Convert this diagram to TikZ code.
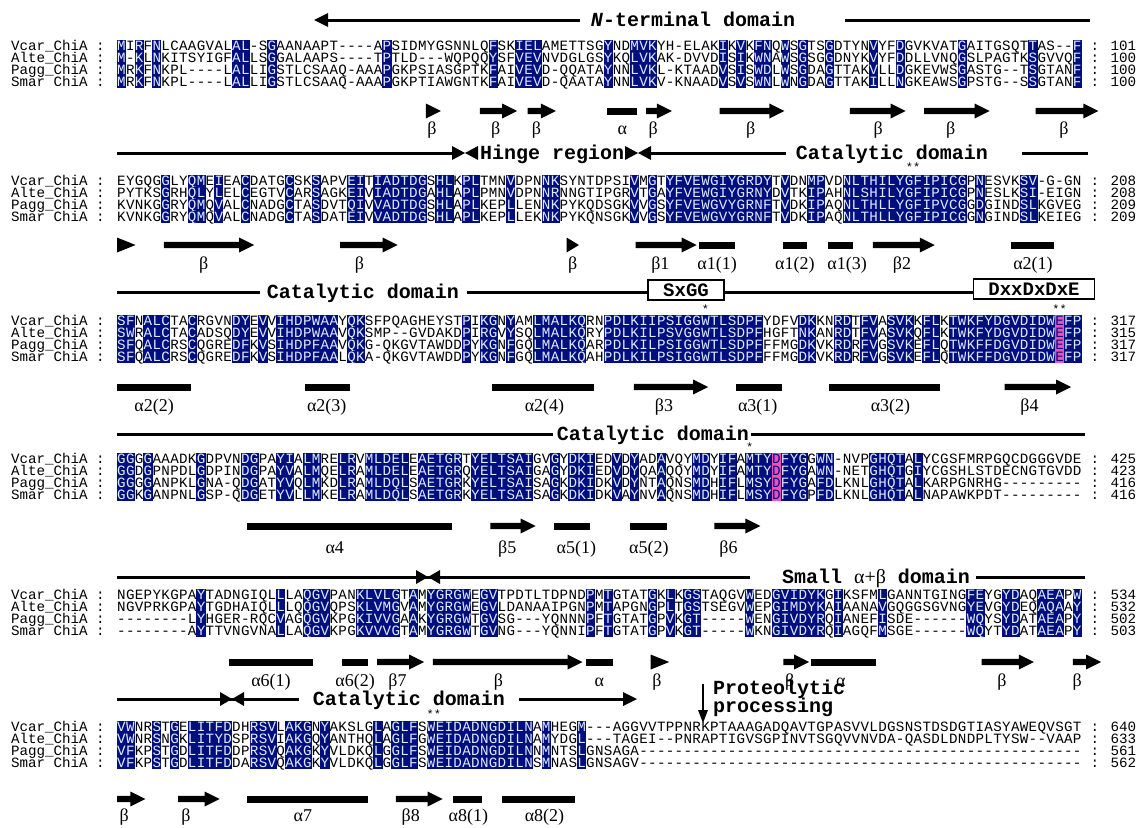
\documentclass[tikz,border=0pt]{standalone}
\usepackage{fontspec}
\newfontfamily\seqf{Liberation Mono}
\newfontfamily\serf{Liberation Serif}
\definecolor{nv}{RGB}{0,15,125}
\definecolor{pk}{RGB}{240,80,190}
\definecolor{lt}{RGB}{225,232,255}
\makeatletter
\newcount\st@n
\def\storeseq#1#2{\def\st@pre{#1}\global\st@n=0 \st@loop#2\relax}
\def\st@loop#1{\ifx#1\relax\else\global\advance\st@n1 \expandafter\xdef\csname\st@pre @\the\st@n\endcsname{#1}\expandafter\st@loop\fi}
\def\setgrp#1#2{\@tfor\x:=#2\do{\expandafter\xdef\csname g@\x\endcsname{#1}}}
\setgrp{1}{DN}\setgrp{2}{EQ}\setgrp{3}{ST}\setgrp{4}{KR}\setgrp{5}{FYW}\setgrp{6}{LIVM}
\def\getgrp#1#2{\ifcsname g@#1\endcsname\edef#2{\csname g@#1\endcsname}\else\edef#2{#1}\fi}
\makeatother
\def\xo{117}\def\pw{8.85}\def\rp{12}\def\bsh{4.1}
\tikzset{
 seqtxt/.style={font=\seqf\fontsize{14.2}{15}\selectfont, inner sep=0pt, anchor=base},
 dline/.style={line width=3pt},
 dtxt/.style={font=\seqf\bfseries\fontsize{20}{22}\selectfont, inner sep=0pt, anchor=base},
 sslab/.style={font=\serf\fontsize{18}{20}\selectfont, inner sep=0pt, anchor=base},
 startxt/.style={font=\seqf\fontsize{12}{12}\selectfont, inner sep=0pt},
 motif/.style={draw, line width=1.5pt, minimum height=20pt, inner sep=0pt, font=\seqf\bfseries\fontsize{19}{20}\selectfont}
}
\newcommand\putcell[3]{%
  \pgfmathsetmacro\yy{-(#1)}%
  \ifcase#3\relax
    \node[seqtxt] at ({\xx},{\yy-\bsh}) {#2};%
  \or
    \fill[nv] ({\xx-0.5*\pw-0.2},{\yy-0.5*\rp-0.2}) rectangle ({\xx+0.5*\pw+0.2},{\yy+0.5*\rp+0.2});%
    \node[seqtxt,text=lt] at ({\xx},{\yy-\bsh}) {#2};%
  \or
    \fill[pk] ({\xx-0.5*\pw-0.2},{\yy-0.5*\rp-0.2}) rectangle ({\xx+0.5*\pw+0.2},{\yy+0.5*\rp+0.2});%
    \node[seqtxt,text=nv] at ({\xx},{\yy-\bsh}) {#2};%
  \fi}
\newcommand\drawblock[7]{%
  \foreach \cl in {1,...,109}{%
    \edef\qa{\csname s#1a@\cl\endcsname}%
    \edef\qb{\csname s#1b@\cl\endcsname}%
    \edef\qc{\csname s#1c@\cl\endcsname}%
    \edef\qd{\csname s#1d@\cl\endcsname}%
    \getgrp\qa\grA\getgrp\qb\grB\getgrp\qc\grC\getgrp\qd\grD
    \def\shmode{0}%
    \ifx\grA\grB\ifx\grB\grC\ifx\grC\grD\def\shmode{1}\fi\fi\fi
    \if-\qa\def\shmode{0}\fi
    \ifnum\cl=#3\relax\def\shmode{2}\fi
    \pgfmathsetmacro\xx{\xo+(\cl-0.5)*\pw}%
    \putcell{#2}{\qa}{\shmode}%
    \putcell{#2+\rp}{\qb}{\shmode}%
    \putcell{#2+2*\rp}{\qc}{\shmode}%
    \putcell{#2+3*\rp}{\qd}{\shmode}%
  }%
  \node[seqtxt,anchor=base west] (n#1a) at ({\xo-12*\pw},{-(#2)-\bsh}) {Vcar\_ChiA :};
  \node[seqtxt,anchor=base west] (n#1b) at ({\xo-12*\pw},{-(#2)-\rp-\bsh}) {Alte\_ChiA :};
  \node[seqtxt,anchor=base west] (n#1c) at ({\xo-12*\pw},{-(#2)-2*\rp-\bsh}) {Pagg\_ChiA :};
  \node[seqtxt,anchor=base west] (n#1d) at ({\xo-12*\pw},{-(#2)-3*\rp-\bsh}) {Smar ChiA :};
  \node[seqtxt,anchor=base west] (m#1a) at ({\xo+110*\pw},{-(#2)-\bsh}) {: #4};
  \node[seqtxt,anchor=base west] (m#1b) at ({\xo+110*\pw},{-(#2)-\rp-\bsh}) {: #5};
  \node[seqtxt,anchor=base west] (m#1c) at ({\xo+110*\pw},{-(#2)-2*\rp-\bsh}) {: #6};
  \node[seqtxt,anchor=base west] (m#1d) at ({\xo+110*\pw},{-(#2)-3*\rp-\bsh}) {: #7};
}
\newcommand\ssarrow[3]{%
  \pgfmathsetmacro\xa{\xo+#1*\pw}\pgfmathsetmacro\xb{\xo+#2*\pw}%
  \fill (\xa,{-#3+3.2}) -- ({\xb-15},{-#3+3.2}) -- ({\xb-15},{-#3+7.5}) -- (\xb,{-#3}) -- ({\xb-15},{-#3-7.5}) -- ({\xb-15},{-#3-3.2}) -- (\xa,{-#3-3.2}) -- cycle;}
\newcommand\sstri[3]{%
  \pgfmathsetmacro\xa{\xo+#1*\pw}\pgfmathsetmacro\xb{\xo+#2*\pw}%
  \fill (\xa,{-#3+7.5}) -- (\xb,{-#3}) -- (\xa,{-#3-7.5}) -- cycle;}
\newcommand\ssbar[3]{%
  \pgfmathsetmacro\xa{\xo+#1*\pw}\pgfmathsetmacro\xb{\xo+#2*\pw}%
  \fill (\xa,{-#3+3.5}) rectangle (\xb,{-#3-3.5});}
\newcommand\sslabel[3]{\node[sslab] at ({\xo+#1*\pw},{-#2-5.5}) {#3};}
\newcommand\ahead[3]{\fill (#1,{-#2}) -- ({#1+#3},{-#2+7}) -- ({#1+#3},{-#2-7}) -- cycle;}

\storeseq{s1a}{MIRFNLCAAGVALAL-SGAANAAPT----APSIDMYGSNNLQFSKIELAMETTSGYNDMVKYH-ELAKIKVKFNQWSGTSGDTYNVYFDGVKVATGAITGSQTTAS--F}
\storeseq{s1b}{M-KLNKITSYIGFALLSGGALAAPS----TPTLD---WQPQQYSFVEVNVDGLGSYKQLVKAK-DVVDISIKWNAWSGSGGDNYKVYFDDLLVNQGSLPAGTKSGVVQF}
\storeseq{s1c}{MRKFNKPL----LALLIGSTLCSAAQ-AAAPGKPSIASGPTKFAIVEVD-QQATAYNNLVKL-KTAADVSISWDLWSGDAGTTAKVLLDGKEVWSGASTG--TSGTANF}
\storeseq{s1d}{MRKFNKPL----LALLIGSTLCSAAQ-AAAPGKPTIAWGNTKFAIVEVD-QAATAYNNLVKV-KNAADVSVSWNLWNGDAGTTAKILLNGKEAWSGPSTG--SSGTANF}
\storeseq{s2a}{EYGQGGLYQMEIEACDATGCSKSAPVEITIADTDGSHLKPLTMNVDPNNKSYNTDPSIVMGTYFVEWGIYGRDYTVDNMPVDNLTHILYGFIPICGPNESVKSV-G-GN}
\storeseq{s2b}{PYTKSGRHQLYLELCEGTVCARSAGKEIVIADTDGAHLAPLPMNVDPNNRNNGTIPGRVTGAYFVEWGIYGRNYDVTKIPAHNLSHILYGFIPICGPNESLKSI-EIGN}
\storeseq{s2c}{KVNKGGRYQMQVALCNADGCTASDVTQIVVADTDGSHLAPLKEPLLENNKPYKQDSGKVVGSYFVEWGVYGRNFTVDKIPAQNLTHLLYGFIPVCGGDGINDSLKGVEG}
\storeseq{s2d}{KVNKGGRYQMQVALCNADGCTASDATEIVVADTDGSHLAPLKEPLLEKNKPYKQNSGKVVGSYFVEWGVYGRNFTVDKIPAQNLTHLLYGFIPICGGNGINDSLKEIEG}
\storeseq{s3a}{SFNALCTACRGVNDYEVVIHDPWAAYQKSFPQAGHEYSTPIKGNYAMLMALKQRNPDLKIIPSIGGWTLSDPFYDFVDKKNRDTFVASVKKFLKTWKFYDGVDIDWEFP}
\storeseq{s3b}{SWRALCTACADSQDYEVVIHDPWAAVQKSMP--GVDAKDPIRGVYSQLMALKQRYPDLKILPSVGGWTLSDPFHGFTNKANRDTFVASVKQFLKTWKFYDGVDIDWEFP}
\storeseq{s3c}{SFQALCRSCQGREDFKVSIHDPFAAVQKG-QKGVTAWDDPYKGNFGQLMALKQARPDLKILPSIGGWTLSDPFFFMGDKVKRDRFVGSVKEFLQTWKFFDGVDIDWEFP}
\storeseq{s3d}{SFQALCRSCQGREDFKVSIHDPFAALQKA-QKGVTAWDDPYKGNFGQLMALKQAHPDLKILPSIGGWTLSDPFFFMGDKVKRDRFVGSVKEFLQTWKFFDGVDIDWEFP}
\storeseq{s4a}{GGGGAAADKGDPVNDGPAYIALMRELRVMLDELEAETGRTYELTSAIGVGYDKIEDVDYADAVQYMDYIFAMTYDFYGGWN-NVPGHQTALYCGSFMRPGQCDGGGVDE}
\storeseq{s4b}{GGDGPNPDLGDPINDGPAYVALMQELRAMLDELEAETGRQYELTSAIGAGYDKIEDVDYQAAQQYMDYIFAMTYDFYGAWN-NETGHQTGIYCGSHLSTDECNGTGVDD}
\storeseq{s4c}{GGGGANPKLGNA-QDGATYVQLMKDLRAMLDQLSAETGRKYELTSAISAGKDKIDKVDYNTAQNSMDHIFLMSYDFYGAFDLKNLGHQTALKARPGNRHG---------}
\storeseq{s4d}{GGKGANPNLGSP-QDGETYVLLMKELRAMLDQLSAETGRKYELTSAISAGKDKIDKVAYNVAQNSMDHIFLMSYDFYGPFDLKNLGHQTALNAPAWKPDT---------}
\storeseq{s5a}{NGEPYKGPAYTADNGIQLLLAQGVPANKLVLGTAMYGRGWEGVTPDTLTDPNDPMTGTATGKLKGSTAQGVWEDGVIDYKGIKSFMLGANNTGINGFEYGYDAQAEAPW}
\storeseq{s5b}{NGVPRKGPAYTGDHAIQLLLQQGVQPSKLVMGVAMYGRGWEGVLDANAAIPGNPMTAPGNGPLTGSTSEGVWEPGIMDYKAIAANAVGQGGSGVNGYEVGYDEQAQAAY}
\storeseq{s5c}{--------LYHGER-RQCVAGQGVKPGKIVVGAAKYGRGWTGVSG---YQNNNPFTGTATGPVKGT-----WENGIVDYRQIANEFISDE------WQYSYDATAEAPY}
\storeseq{s5d}{--------AYTTVNGVNALLAQGVKPGKVVVGTAMYGRGWTGVNG---YQNNIPFTGTATGPVKGT-----WKNGIVDYRQIAGQFMSGE------WQYTYDATAEAPY}
\storeseq{s6a}{VWNRSTGELITFDDHRSVLAKGNYAKSLGLAGLFSWEIDADNGDILNAMHEGM---AGGVVTPPNRKPTAAAGADQAVTGPASVVLDGSNSTDSDGTIASYAWEQVSGT}
\storeseq{s6b}{VWNRSNGKLITYDSPRSVIAKGQYANTHQLAGLFGWEIDADNGDILNAMYDGL---TAGEI--PNRAPTIGVSGPINVTSGQVVNVDA-QASDLDNDPLTYSW--VAAP}
\storeseq{s6c}{VFKPSTGDLITFDDPRSVQAKGKYVLDKQLGGLFSWEIDADNGDILNNMNTSLGNSAGA--------------------------------------------------}
\storeseq{s6d}{VFKPSTGDLITFDDARSVQAKGKYVLDKQLGGLFSWEIDADNGDILNSMNASLGNSAGV--------------------------------------------------}

\begin{document}
\begin{tikzpicture}[x=1pt,y=1pt]
\fill[white] (0,0) rectangle (1147,-827);
\useasboundingbox (0,0) rectangle (1147,-827);

% ---------- Block 1 ----------
\draw[dline] (326,-20) -- (580,-20); \ahead{314}{20}{14}
\node[dtxt] (d1) at (693,-26) {\textit{N}-terminal domain};
\draw[dline] (845,-20) -- (1090,-20);
\drawblock{1}{46}{0}{101}{100}{100}{100}
\sstri{34.9}{36.6}{111} \sslabel{35.6}{129}{β}
\ssarrow{41}{45.2}{111} \sslabel{42.8}{129}{β}
\ssarrow{46.4}{49.6}{111} \sslabel{47.4}{129}{β}
\ssbar{55.4}{58.7}{111} \sslabel{57.1}{129}{α}
\ssarrow{59.8}{62.7}{111} \sslabel{60.6}{129}{β}
\ssarrow{68.1}{75.4}{111} \sslabel{71.6}{129}{β}
\ssarrow{82.8}{89.1}{111} \sslabel{86}{129}{β}
\ssarrow{91.2}{98.6}{111} \sslabel{94.2}{129}{β}
\ssarrow{103.8}{110.9}{111} \sslabel{107}{129}{β}

% ---------- Block 2 ----------
\draw[dline] (117,-153) -- (455,-153); \ahead{465}{153}{-13}\ahead{465}{153}{13}
\node[dtxt,anchor=base west] (d2a) at (480,-159) {Hinge region};
\ahead{638}{153}{-13}\ahead{638}{153}{13}
\draw[dline] (648,-153) -- (786,-153);
\node[dtxt] (d2b) at (892,-159) {Catalytic domain};
\draw[dline] (1022,-153) -- (1088,-153);
\node[startxt] (s2) at (913,-167) {**};
\drawblock{2}{181}{0}{208}{208}{209}{209}
\sstri{0}{2.1}{245}
\ssarrow{5.3}{15.5}{245} \sslabel{9.8}{264}{β}
\ssarrow{25.2}{31.7}{245} \sslabel{27.4}{264}{β}
\sstri{50.8}{52.2}{245} \sslabel{51.5}{264}{β}
\ssarrow{58.6}{65.5}{245} \sslabel{61.4}{264}{β1}
\ssbar{65.8}{69.8}{245} \sslabel{67.8}{264}{α1(1)}
\ssbar{75.2}{78}{245} \sslabel{76.6}{264}{α1(2)}
\ssbar{80.3}{83.2}{245} \sslabel{82.5}{264}{α1(3)}
\ssarrow{85.4}{92.4}{245} \sslabel{88.7}{264}{β2}
\ssbar{101}{105.9}{245} \sslabel{103.5}{264}{α2(1)}

% ---------- Block 3 ----------
\draw[dline] (117,-292) -- (260,-292);
\node[dtxt] (d3) at (363,-298) {Catalytic domain};
\draw[dline] (467,-292) -- (648,-292);
\node[motif, minimum width=76pt] (sxgg) at (686,-290) {SxGG};
\draw[dline] (724,-292) -- (974,-292);
\node[motif, minimum width=121pt] (dxx) at (1034,-289) {DxxDxDxE};
\node[startxt] (s3a) at (705.5,-309) {*};
\node[startxt] (s3b) at (1059.5,-309) {**};
\drawblock{3}{321}{107}{317}{315}{317}{317}
\ssbar{0}{8.4}{387} \sslabel{4.2}{406}{α2(2)}
\ssbar{21.2}{26.3}{387} \sslabel{23.7}{406}{α2(3)}
\ssbar{42.4}{53.9}{387} \sslabel{48.3}{406}{α2(4)}
\ssarrow{58.4}{66.8}{387} \sslabel{61.8}{406}{β3}
\ssbar{69.9}{75.1}{387} \sslabel{72.4}{406}{α3(1)}
\ssbar{80.5}{93}{387} \sslabel{87.4}{406}{α3(2)}
\ssarrow{100.3}{107.8}{387} \sslabel{103.1}{406}{β4}

% ---------- Block 4 ----------
\draw[dline] (117,-434) -- (553,-434);
\node[dtxt] (d4) at (653,-440) {Catalytic domain};
\draw[dline] (751,-434) -- (1085,-434);
\node[startxt] (s4) at (749.8,-447) {*};
\drawblock{4}{459}{75}{425}{423}{416}{416}
\ssbar{14.7}{37.8}{526} \sslabel{24.6}{548}{α4}
\ssarrow{42.2}{47.3}{526} \sslabel{44.1}{548}{β5}
\ssbar{49.4}{53.5}{526} \sslabel{51.9}{548}{α5(1)}
\ssbar{58}{62.2}{526} \sslabel{60.1}{548}{α5(2)}
\ssarrow{67.5}{72.7}{526} \sslabel{69.1}{548}{β6}

% ---------- Block 5 ----------
\draw[dline] (117,-577) -- (750,-577); \ahead{428}{577}{-12}\ahead{428}{577}{12}
\node[dtxt] (d5) at (876,-583) {Small {\serf\mdseries α+β} domain};
\draw[dline] (976,-577) -- (1085,-577);
\drawblock{5}{595}{0}{534}{532}{502}{503}
\ssbar{12.6}{22.1}{662} \sslabel{17.4}{681}{α6(1)}
\ssbar{25.4}{28.4}{662} \sslabel{26.9}{681}{α6(2)}
\ssarrow{29.4}{34.7}{662} \sslabel{31.7}{681}{β7}
\ssarrow{35.7}{52.6}{662} \sslabel{43.1}{681}{β}
\ssbar{53}{56.1}{662} \sslabel{54.5}{681}{α}
\sstri{60.3}{62.4}{662} \sslabel{61}{681}{β}
\ssarrow{75.3}{78.2}{662} \sslabel{76}{681}{β}
\ssbar{78.4}{85.8}{662} \sslabel{81.8}{681}{α}
\ssarrow{97.7}{103.6}{662} \sslabel{100}{681}{β}
\ssarrow{108}{111.2}{662} \sslabel{108.5}{681}{β}

% ---------- Block 6 ----------
\draw[dline] (117,-699) -- (299,-699); \ahead{232}{699}{-12}\ahead{232}{699}{12}
\node[dtxt] (d6) at (409,-705) {Catalytic domain};
\draw[dline] (519,-699) -- (626,-699); \ahead{637}{699}{-14}
\draw[line width=2.4pt] (703,-684) -- (703,-713);
\fill (703,-723) -- (698,-710) -- (708,-710) -- cycle;
\node[dtxt,anchor=base west] (p1) at (713,-694) {Proteolytic};
\node[dtxt,anchor=base west] (p2) at (713,-712) {processing};
\node[startxt] (s6) at (433.8,-714) {**};
\drawblock{6}{727}{0}{640}{633}{561}{562}
\ssarrow{0}{3.2}{799} \sslabel{0.8}{816}{β}
\ssarrow{6.9}{11.6}{799} \sslabel{7.8}{816}{β}
\ssbar{14.7}{28.4}{799} \sslabel{21}{816}{α7}
\ssarrow{31.5}{36.8}{799} \sslabel{33.2}{816}{β8}
\ssbar{38}{41.2}{799} \sslabel{39.7}{816}{α8(1)}
\ssbar{43.5}{51.8}{799} \sslabel{48.3}{816}{α8(2)}
\end{tikzpicture}
\end{document}
